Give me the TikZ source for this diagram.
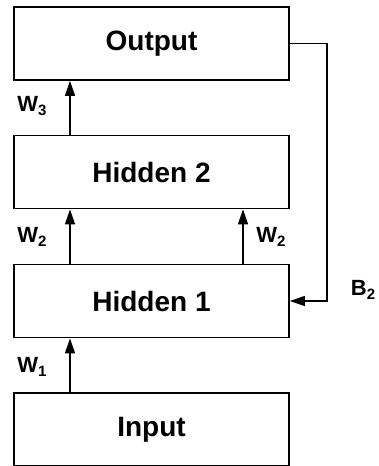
\documentclass[tikz,border=0pt]{standalone}
\usepackage{fontspec}
\setmainfont{Liberation Sans}
\usetikzlibrary{arrows.meta}
\newcommand\wsub[2]{#1\raisebox{-0.3ex}{\fontsize{15}{15}\selectfont #2}}
\begin{document}
\begin{tikzpicture}[x=1pt,y=-1pt,
  layer/.style={draw=black,line width=1.8pt,minimum width=275pt,minimum height=73pt,
    inner sep=0pt,font=\fontsize{28}{30}\selectfont\bfseries},
  arr/.style={line width=1.6pt,-{Triangle[length=15pt,width=10pt]}},
  wlab/.style={font=\fontsize{22}{24}\selectfont\bfseries,inner sep=0pt}]
\useasboundingbox (0,0) rectangle (378,466);
\node[layer] (out) at (151.5,43.5) {Output};
\node[layer] (h2) at (151.5,172) {Hidden 2};
\node[layer] (h1) at (151.5,301) {Hidden 1};
\node[layer] (in) at (151.5,429.5) {Input};
\coordinate (xl) at (70,0);
\coordinate (xr) at (243,0);
\coordinate (fb) at (327,0);
% feed-forward connections
\draw[arr] (in.north -| xl) -- (h1.south -| xl);
\draw[arr] (h1.north -| xl) -- (h2.south -| xl);
\draw[arr] (h1.north -| xr) -- (h2.south -| xr);
\draw[arr] (h2.north -| xl) -- (out.south -| xl);
% feedback from output to hidden 1
\draw[arr] (out.east) -- (out.east -| fb) -- (h1.east -| fb) -- (h1.east);
% weight labels
\node[wlab] (w3) at (32,106) {\wsub{W}{3}};
\node[wlab] (w2a) at (32,237) {\wsub{W}{2}};
\node[wlab] (w2b) at (271,237) {\wsub{W}{2}};
\node[wlab] (w1) at (32,367) {\wsub{W}{1}};
\node[wlab] (b2) at (363,290) {\wsub{B}{2}};
\end{tikzpicture}
\end{document}
